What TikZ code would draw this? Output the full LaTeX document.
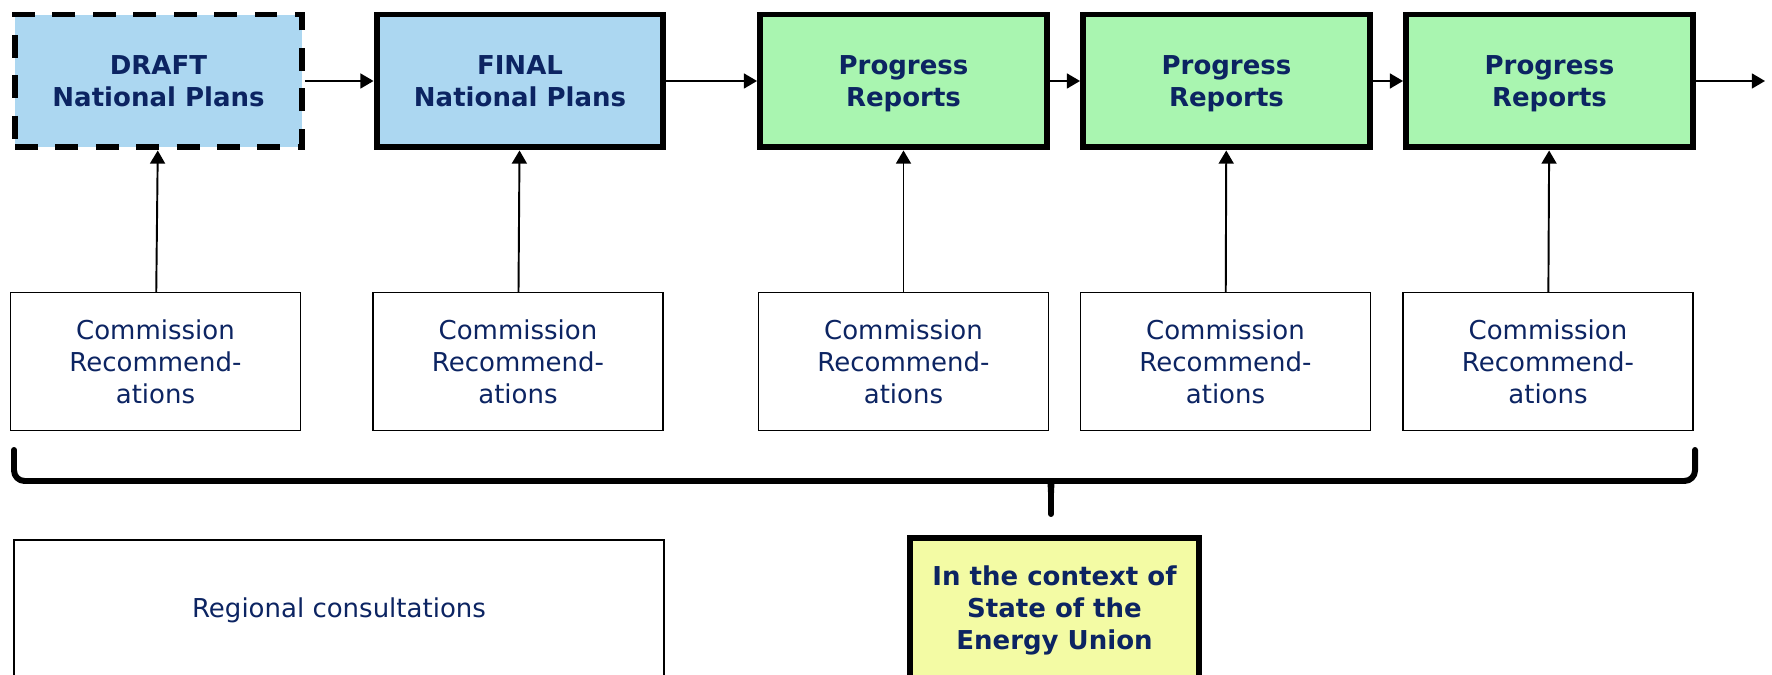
\documentclass[tikz,border=0pt]{standalone}
\usepackage{fontspec}
\setmainfont{DejaVu Sans}
\usetikzlibrary{arrows.meta}
\definecolor{ecnavy}{RGB}{12,36,98}
\definecolor{ecblue}{RGB}{172,215,241}
\definecolor{ecgreen}{RGB}{169,245,176}
\definecolor{ecyellow}{RGB}{243,251,164}

\tikzset{
  stagebox/.style={draw=black, line width=3.4pt, minimum width=5.74cm, minimum height=2.66cm,
    align=center, text=ecnavy, font=\fontsize{14.8}{18.2}\selectfont\bfseries,
    text depth=-1.5pt},
  recbox/.style={draw=black, line width=0.8pt, minimum width=5.8cm, minimum height=2.76cm,
    align=center, text=ecnavy, font=\fontsize{14.8}{18.2}\selectfont},
  flow/.style={line width=1.1pt, -{Triangle[length=7.5pt,width=8.5pt]}},
}

\begin{document}
\begin{tikzpicture}[x=0.02cm, y=-0.02cm]
\useasboundingbox (0,0) rectangle (1772,675);
% National plans
\node[stagebox, fill=ecblue, dash pattern=on 13pt off 10pt] (draft) at (158.5,81) {DRAFT\\National Plans};
\node[stagebox, fill=ecblue] (final) at (520,81) {FINAL\\National Plans};
% Progress reports
\foreach \i/\x in {1/903.5, 2/1226.5, 3/1549.5} {
  \node[stagebox, fill=ecgreen] (prog\i) at (\x,81) {Progress\\Reports};
}
% Commission recommendations
\foreach \i/\x in {1/155.5, 2/518, 3/903.5, 4/1225.5, 5/1548} {
  \node[recbox] (rec\i) at (\x,361.5) {Commission\\Recommend-\\ations};
}
% Time line
\coordinate (next) at (1765,81);
\draw[flow] (draft) -- (final);
\draw[flow] (final) -- (prog1);
\draw[flow] (prog1) -- (prog2);
\draw[flow] (prog2) -- (prog3);
\draw[flow] (prog3) -- (next);
\foreach \r/\t in {rec1/draft, rec2/final, rec3/prog1, rec4/prog2, rec5/prog3} {
  \draw[flow] (\r) -- (\t);
}
% Brace
\draw[line width=3.4pt, line cap=round, line join=round]
  [rounded corners=6pt] (14,450) -- (14,481) -- (1043,481)
  [sharp corners] .. controls (1049,481) and (1051,485) .. (1051,493) -- (1051,514);
\draw[line width=3.4pt, line cap=round, line join=round]
  [rounded corners=6pt] (1695,450) -- (1695,481) -- (1059,481)
  [sharp corners] .. controls (1053,481) and (1051,485) .. (1051,493);
% Bottom row
\node[recbox, minimum width=13cm, minimum height=2.8cm] (regional) at (339,610) {Regional consultations};
\node[stagebox, fill=ecyellow, minimum width=5.78cm, minimum height=2.82cm] (sotu) at (1054.5,608)
  {In the context of\\State of the\\Energy Union};
\end{tikzpicture}
\end{document}
